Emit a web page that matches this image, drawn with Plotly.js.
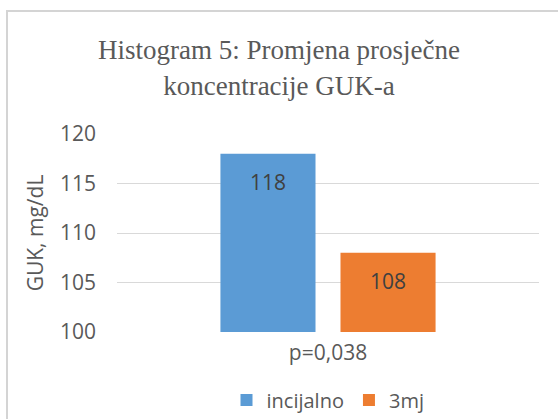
<!DOCTYPE html>
<html><head><meta charset="utf-8">
<script src="https://cdn.plot.ly/plotly-3.0.1.min.js"></script>
<style>
html,body{margin:0;padding:0;background:#fff;}
#wrap{position:relative;width:558px;height:419px;overflow:hidden;}
#chart{position:absolute;left:0;top:0;width:558px;height:419px;}
#frame{position:absolute;left:6px;top:10px;width:600px;height:500px;border-top:2px solid #d4d4d4;border-left:2px solid #d4d4d4;pointer-events:none;}
</style>
</head><body>
<div id="wrap"><div id="chart"></div><div id="frame"></div></div>
<script>
const categories = ["p=0,038"];
const seriesNames = ["incijalno", "3mj"];
const incijalno = [118];
const mj3 = [108];
const colors = ["#5B9BD5", "#ED7D31"];
const yTicks = [100, 105, 110, 115, 120];

const W = 558, H = 419;
const margin = {l: 117, r: 19, t: 134, b: 87, autoexpand: false};
const bargap = 0.431, bargroupgap = 0.208;
const plotW = W - margin.l - margin.r;
const slot = plotW * (1 - bargap) / 2;

const fam = "Open Sans, sans-serif";
const series = [incijalno, mj3];
const traces = series.map((vals, i) => ({
  type: "bar",
  name: seriesNames[i],
  x: categories,
  y: vals,
  marker: {color: colors[i]},
  hoverinfo: "none"
}));

const annotations = [];
series.forEach((vals, i) => {
  vals.forEach((v, j) => {
    annotations.push({
      x: categories[j], y: v, xref: "x", yref: "y",
      text: String(v), showarrow: false,
      xanchor: "center", yanchor: "middle",
      xshift: (i - 0.5) * slot, yshift: -28,
      font: {family: fam, size: 21, color: "#404040"}
    });
  });
});

const layout = {
  width: W, height: H,
  margin: margin,
  paper_bgcolor: "#fff", plot_bgcolor: "#fff",
  title: {
    text: "Histogram 5: Promjena prosječne<br>koncentracije GUK-a",
    font: {family: "Liberation Serif, Times New Roman, serif", size: 27, color: "#595959"},
    x: 0.5, xanchor: "center", y: 0.858, yanchor: "top"
  },
  barmode: "group",
  bargap: bargap,
  bargroupgap: bargroupgap,
  xaxis: {
    type: "category",
    showgrid: false, zeroline: false,
    showline: false,
    ticks: "",
    ticklabelstandoff: 6,
    tickfont: {family: fam, size: 21, color: "#595959"}
  },
  yaxis: {
    range: [100, 120],
    tickvals: yTicks,
    ticktext: yTicks.map(String),
    showgrid: true, gridcolor: "#d9d9d9", gridwidth: 1,
    zeroline: false, showline: false, ticks: "",
    ticklabelstandoff: 20,
    tickfont: {family: fam, size: 21, color: "#595959"},
    title: {text: "GUK, mg/dL", standoff: 10, font: {family: fam, size: 21, color: "#595959"}}
  },
  annotations: annotations,
  showlegend: true,
  legend: {
    orientation: "h", x: 0.5, xanchor: "center", y: -0.343, yanchor: "middle",
    font: {family: fam, size: 20, color: "#595959"},
    traceorder: "normal"
  }
};
Plotly.newPlot("chart", traces, layout, {displayModeBar: false, staticPlot: true});
</script>
</body></html>
